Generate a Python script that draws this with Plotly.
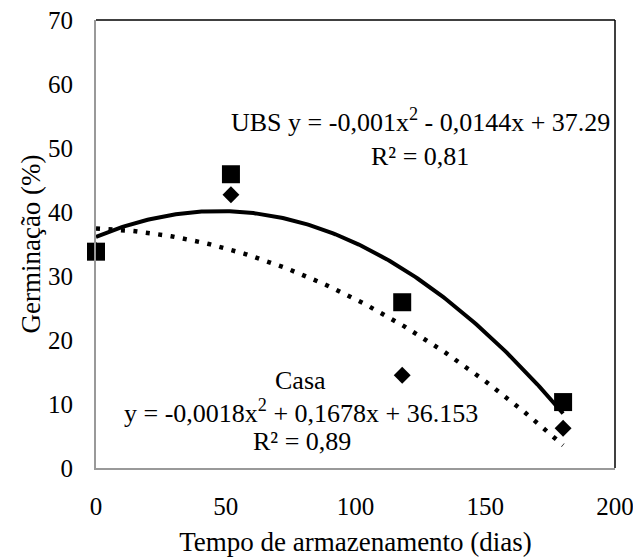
import numpy as np
import plotly.graph_objects as go

# Storage time (days)
dias = [0, 52, 118, 180]
# Germination (%)
casa = [33.8, 45.9, 25.9, 10.3]   # squares, solid trendline
ubs = [34.0, 42.7, 14.5, 6.2]     # diamonds, dotted trendline

x_ticks = [0, 50, 100, 150, 200]
y_ticks = [0, 10, 20, 30, 40, 50, 60, 70]

FONT = "Liberation Serif, Times New Roman, serif"

xs = np.linspace(min(dias), max(dias), 200)
pc = np.polyfit(dias, casa, 2)
pu = np.polyfit(dias, ubs, 2)

fig = go.Figure()
fig.add_trace(go.Scatter(x=xs, y=np.polyval(pu, xs), mode="lines",
                         line=dict(color="black", width=4.5, dash="4px,8.5px"),
                         showlegend=False, hoverinfo="skip", cliponaxis=False))
fig.add_trace(go.Scatter(x=xs, y=np.polyval(pc, xs), mode="lines",
                         line=dict(color="black", width=4),
                         showlegend=False, hoverinfo="skip", cliponaxis=False))
fig.add_trace(go.Scatter(x=dias, y=ubs, mode="markers",
                         marker=dict(symbol="diamond", size=13, color="black"),
                         showlegend=False, cliponaxis=False))
fig.add_trace(go.Scatter(x=dias, y=casa, mode="markers",
                         marker=dict(symbol="square", size=18, color="black"),
                         showlegend=False, cliponaxis=False))

# page has an 8px body margin: figure offset compensated
OFF = 8
W, H = 641 - OFF, 557 - OFF
PL, PR, PT, PB = 96, 615, 20, 468          # plot area in page pixels
ml, mr, mt, mb = PL - OFF, W - (PR - OFF), PT - OFF, H - (PB - OFF)
pw, ph = PR - PL, PB - PT

ann_font = dict(family=FONT, size=26, color="black")
annots = [
    ("UBS y = -0,001x<sup>2</sup> - 0,0144x + 37.29", 420, 120),
    ("R² = 0,81", 420, 156),
    ("Casa", 300, 380),
    ("y = -0,0018x<sup>2</sup> + 0,1678x + 36.153", 301, 411),
    ("R² = 0,89", 302, 441),
]
for txt, px, py in annots:
    fig.add_annotation(x=(px - PL) / pw, y=1 - (py - PT) / ph, xref="paper", yref="paper",
                       text=txt, showarrow=False, font=ann_font,
                       xanchor="center", yanchor="middle")

fig.add_shape(type="line", xref="paper", yref="paper", x0=0, x1=1, y0=1, y1=1,
              line=dict(color="black", width=1.5))
fig.add_shape(type="line", xref="paper", yref="paper", x0=1, x1=1, y0=0, y1=1,
              line=dict(color="black", width=1.5))

tick_font = dict(family=FONT, size=25, color="black")
title_font = dict(family=FONT, size=27, color="black")
fig.update_layout(
    width=W, height=H,
    margin=dict(l=ml, r=mr, t=mt, b=mb),
    paper_bgcolor="white", plot_bgcolor="white",
    font=dict(family=FONT, size=25, color="black"),
    xaxis=dict(range=[0, 200], tickvals=x_ticks, showgrid=False, zeroline=False,
               showline=True, linecolor="#999999", linewidth=2, ticks="",
               ticklabelstandoff=15, tickfont=tick_font, automargin=False,
               ticklabeloverflow="allow",
               title=dict(text="Tempo de armazenamento (dias)", standoff=15,
                          font=title_font)),
    yaxis=dict(range=[0, 70], tickvals=y_ticks, showgrid=False, zeroline=False,
               showline=True, linecolor="#999999", linewidth=2, ticks="",
               ticklabelstandoff=16, tickfont=tick_font, automargin=False,
               ticklabeloverflow="allow",
               title=dict(text="Germinação (%)", standoff=0, font=title_font)),
)

fig.write_html("out.html")
